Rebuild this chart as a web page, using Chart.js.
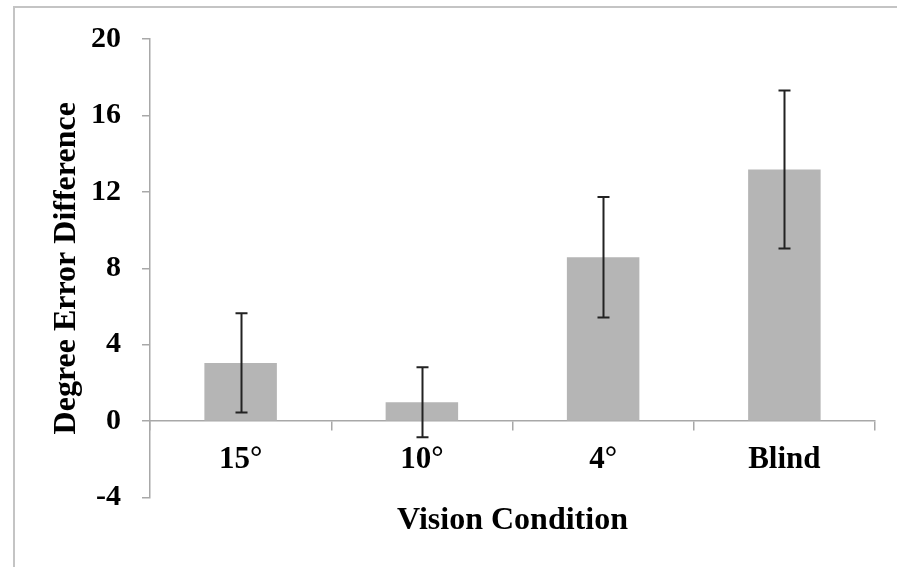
<!DOCTYPE html>
<html>
<head>
<meta charset="utf-8">
<script src="https://cdn.jsdelivr.net/npm/chart.js@4"></script>
<style>
  html, body { margin: 0; padding: 0; background: #fff; }
  #wrap { position: relative; width: 897px; height: 567px; overflow: hidden; }
  #frame { position: absolute; left: 13px; top: 6px; width: 900px; height: 600px;
           border-left: 2px solid #c4c4c4; border-top: 2px solid #c4c4c4; pointer-events: none; }
</style>
</head>
<body>
<div id="wrap">
  <canvas id="chart"></canvas>
  <div id="frame"></div>
</div>
<script>
const categories = ['15°', '10°', '4°', 'Blind'];
const means = [3.05, 0.99, 8.58, 13.17];
const errors = [2.6, 1.83, 3.15, 4.14];
const yTicks = [-4, 0, 4, 8, 12, 16, 20];

const serif = "'Liberation Serif', 'Times New Roman', serif";
const axisGray = '#a8a8a8';

// draws the error bars through the y scale
const errorBars = {
  id: 'errorBars',
  afterDatasetsDraw(chart) {
    const ctx = chart.ctx;
    const y = chart.scales.y;
    const meta = chart.getDatasetMeta(0);
    ctx.save();
    ctx.strokeStyle = '#222';
    ctx.lineWidth = 2;
    meta.data.forEach((bar, i) => {
      const top = y.getPixelForValue(means[i] + errors[i]);
      const bot = y.getPixelForValue(means[i] - errors[i]);
      const x = Math.round(bar.x) + 0.5;
      ctx.beginPath();
      ctx.moveTo(x, top); ctx.lineTo(x, bot);
      ctx.moveTo(x - 6, top); ctx.lineTo(x + 6, top);
      ctx.moveTo(x - 6, bot); ctx.lineTo(x + 6, bot);
      ctx.stroke();
    });
    ctx.restore();
  }
};

new Chart(document.getElementById('chart'), {
  type: 'bar',
  data: {
    labels: categories,
    datasets: [{
      data: means,
      backgroundColor: '#b5b5b5',
      borderWidth: 0,
      barPercentage: 0.4,
      categoryPercentage: 1
    }]
  },
  options: {
    responsive: true,
    maintainAspectRatio: false,
    animation: false,
    layout: { padding: { left: 0, top: 37, right: 22, bottom: 0 } },
    plugins: {
      legend: { display: false },
      tooltip: { enabled: false },
      title: {
        display: true,
        position: 'bottom',
        fullSize: false,
        text: 'Vision Condition',
        color: '#000',
        font: { family: serif, size: 32, weight: 'bold' },
        padding: { top: 4, bottom: 27 }
      }
    },
    scales: {
      x: {
        position: { y: 0 },
        offset: true,
        grid: { offset: true, drawOnChartArea: false, drawTicks: true, tickLength: 9, color: axisGray, lineWidth: 1.5 },
        border: { color: axisGray, width: 1.5 },
        ticks: { color: '#000', padding: 11, font: { family: serif, size: 31, weight: 'bold' } }
      },
      y: {
        position: 'left',
        min: -4,
        max: 20,
        afterBuildTicks(scale) { scale.ticks = yTicks.map(v => ({ value: v })); },
        afterFit(scale) { scale.width = 150; },
        grid: { drawOnChartArea: false, drawTicks: true, tickLength: 8, color: axisGray, lineWidth: 1.5 },
        border: { color: axisGray, width: 1.5 },
        ticks: { color: '#000', padding: 21, font: { family: serif, size: 30, weight: 'bold' } },
        title: {
          display: true,
          text: 'Degree Error Difference',
          color: '#000',
          font: { family: serif, size: 32, weight: 'bold' },
          padding: { top: 48, bottom: 0 }
        }
      }
    }
  },
  plugins: [errorBars]
});
</script>
</body>
</html>
